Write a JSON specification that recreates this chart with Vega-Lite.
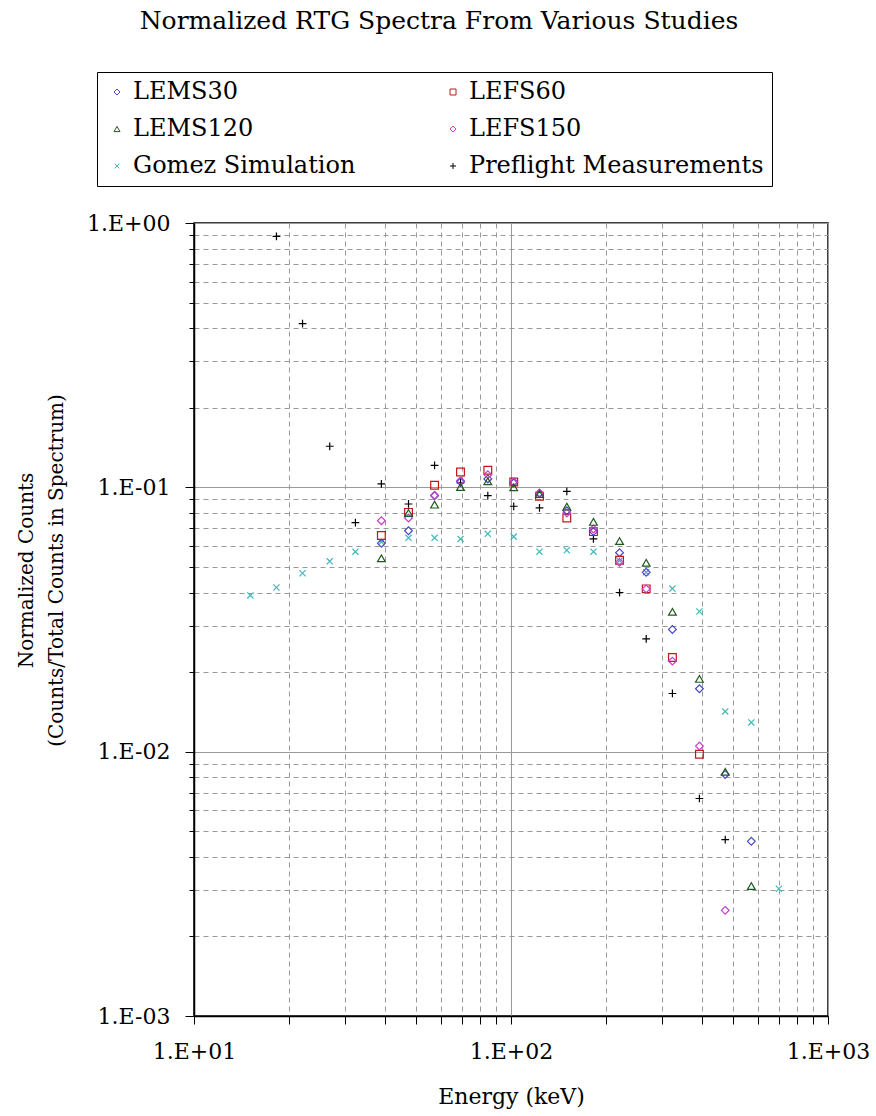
{
  "$schema": "https://vega.github.io/schema/vega-lite/v6.json",
  "width": 634,
  "height": 793,
  "autosize": "none",
  "padding": {"left": 194, "top": 223, "right": 48, "bottom": 100},
  "background": "white",
  "title": {
    "text": "Normalized RTG Spectra From Various Studies",
    "font": "DejaVu Serif",
    "fontSize": 25,
    "fontWeight": "normal",
    "color": "black",
    "anchor": "middle",
    "frame": "group",
    "dx": -72,
    "offset": 38
  },
  "config": {
    "view": {"stroke": "black", "strokeWidth": 1.5},
    "axis": {
      "labelFont": "DejaVu Serif",
      "labelFontSize": 22,
      "labelColor": "black",
      "titleFont": "DejaVu Serif",
      "titleFontSize": 22,
      "titleFontWeight": "normal",
      "titleColor": "black",
      "domainColor": "black",
      "domainWidth": 1.5,
      "tickColor": "black",
      "gridColor": "#999999",
      "gridWidth": 1
    }
  },
  "data": {
    "values": [
      {"series": "Preflight Measurements", "energy": 18.2, "counts": 0.89},
      {"series": "Preflight Measurements", "energy": 22.0, "counts": 0.416},
      {"series": "Preflight Measurements", "energy": 26.8, "counts": 0.143},
      {"series": "Preflight Measurements", "energy": 32.3, "counts": 0.0735},
      {"series": "Preflight Measurements", "energy": 39.0, "counts": 0.103},
      {"series": "Preflight Measurements", "energy": 47.5, "counts": 0.0865},
      {"series": "Preflight Measurements", "energy": 57.4, "counts": 0.121},
      {"series": "Preflight Measurements", "energy": 69.3, "counts": 0.104},
      {"series": "Preflight Measurements", "energy": 84.5, "counts": 0.093},
      {"series": "Preflight Measurements", "energy": 102, "counts": 0.0848},
      {"series": "Preflight Measurements", "energy": 123, "counts": 0.0836},
      {"series": "Preflight Measurements", "energy": 150, "counts": 0.0966},
      {"series": "Preflight Measurements", "energy": 182, "counts": 0.0638},
      {"series": "Preflight Measurements", "energy": 220, "counts": 0.040},
      {"series": "Preflight Measurements", "energy": 267, "counts": 0.0267},
      {"series": "Preflight Measurements", "energy": 323, "counts": 0.0166},
      {"series": "Preflight Measurements", "energy": 393, "counts": 0.00665},
      {"series": "Preflight Measurements", "energy": 474, "counts": 0.00465},

      {"series": "Gomez Simulation", "energy": 15.06, "counts": 0.039},
      {"series": "Gomez Simulation", "energy": 18.2, "counts": 0.0418},
      {"series": "Gomez Simulation", "energy": 22.0, "counts": 0.0473},
      {"series": "Gomez Simulation", "energy": 26.8, "counts": 0.0525},
      {"series": "Gomez Simulation", "energy": 32.3, "counts": 0.0571},
      {"series": "Gomez Simulation", "energy": 39.0, "counts": 0.0621},
      {"series": "Gomez Simulation", "energy": 47.5, "counts": 0.0644},
      {"series": "Gomez Simulation", "energy": 57.4, "counts": 0.0644},
      {"series": "Gomez Simulation", "energy": 69.3, "counts": 0.0638},
      {"series": "Gomez Simulation", "energy": 84.5, "counts": 0.0667},
      {"series": "Gomez Simulation", "energy": 102, "counts": 0.0651},
      {"series": "Gomez Simulation", "energy": 123, "counts": 0.0571},
      {"series": "Gomez Simulation", "energy": 150, "counts": 0.0578},
      {"series": "Gomez Simulation", "energy": 182, "counts": 0.0571},
      {"series": "Gomez Simulation", "energy": 220, "counts": 0.0528},
      {"series": "Gomez Simulation", "energy": 267, "counts": 0.0477},
      {"series": "Gomez Simulation", "energy": 323, "counts": 0.0414},
      {"series": "Gomez Simulation", "energy": 393, "counts": 0.0339},
      {"series": "Gomez Simulation", "energy": 474, "counts": 0.0142},
      {"series": "Gomez Simulation", "energy": 573, "counts": 0.0129},
      {"series": "Gomez Simulation", "energy": 700, "counts": 0.00303},

      {"series": "LEMS30", "energy": 39.0, "counts": 0.0614},
      {"series": "LEMS30", "energy": 47.5, "counts": 0.0685},
      {"series": "LEMS30", "energy": 57.4, "counts": 0.093},
      {"series": "LEMS30", "energy": 69.3, "counts": 0.105},
      {"series": "LEMS30", "energy": 84.5, "counts": 0.1076},
      {"series": "LEMS30", "energy": 102, "counts": 0.104},
      {"series": "LEMS30", "energy": 123, "counts": 0.0947},
      {"series": "LEMS30", "energy": 150, "counts": 0.0816},
      {"series": "LEMS30", "energy": 182, "counts": 0.068},
      {"series": "LEMS30", "energy": 220, "counts": 0.0566},
      {"series": "LEMS30", "energy": 267, "counts": 0.0477},
      {"series": "LEMS30", "energy": 323, "counts": 0.029},
      {"series": "LEMS30", "energy": 393, "counts": 0.0173},
      {"series": "LEMS30", "energy": 474, "counts": 0.0082},
      {"series": "LEMS30", "energy": 573, "counts": 0.00458},

      {"series": "LEFS60", "energy": 39.0, "counts": 0.0657},
      {"series": "LEFS60", "energy": 47.5, "counts": 0.0804},
      {"series": "LEFS60", "energy": 57.4, "counts": 0.1018},
      {"series": "LEFS60", "energy": 69.3, "counts": 0.1143},
      {"series": "LEFS60", "energy": 84.5, "counts": 0.116},
      {"series": "LEFS60", "energy": 102, "counts": 0.1048},
      {"series": "LEFS60", "energy": 123, "counts": 0.0925},
      {"series": "LEFS60", "energy": 150, "counts": 0.0765},
      {"series": "LEFS60", "energy": 182, "counts": 0.068},
      {"series": "LEFS60", "energy": 220, "counts": 0.053},
      {"series": "LEFS60", "energy": 267, "counts": 0.0413},
      {"series": "LEFS60", "energy": 323, "counts": 0.0227},
      {"series": "LEFS60", "energy": 393, "counts": 0.00978},

      {"series": "LEFS150", "energy": 39.0, "counts": 0.0748},
      {"series": "LEFS150", "energy": 47.5, "counts": 0.0766},
      {"series": "LEFS150", "energy": 57.4, "counts": 0.0933},
      {"series": "LEFS150", "energy": 69.3, "counts": 0.106},
      {"series": "LEFS150", "energy": 84.5, "counts": 0.1117},
      {"series": "LEFS150", "energy": 102, "counts": 0.105},
      {"series": "LEFS150", "energy": 123, "counts": 0.0953},
      {"series": "LEFS150", "energy": 150, "counts": 0.080},
      {"series": "LEFS150", "energy": 182, "counts": 0.0696},
      {"series": "LEFS150", "energy": 220, "counts": 0.052},
      {"series": "LEFS150", "energy": 267, "counts": 0.0413},
      {"series": "LEFS150", "energy": 323, "counts": 0.022},
      {"series": "LEFS150", "energy": 393, "counts": 0.0105},
      {"series": "LEFS150", "energy": 474, "counts": 0.00251},

      {"series": "LEMS120", "energy": 39.0, "counts": 0.0539},
      {"series": "LEMS120", "energy": 47.5, "counts": 0.080},
      {"series": "LEMS120", "energy": 57.4, "counts": 0.086},
      {"series": "LEMS120", "energy": 69.3, "counts": 0.1003},
      {"series": "LEMS120", "energy": 84.5, "counts": 0.1054},
      {"series": "LEMS120", "energy": 102, "counts": 0.100},
      {"series": "LEMS120", "energy": 123, "counts": 0.0944},
      {"series": "LEMS120", "energy": 150, "counts": 0.0845},
      {"series": "LEMS120", "energy": 182, "counts": 0.074},
      {"series": "LEMS120", "energy": 220, "counts": 0.0626},
      {"series": "LEMS120", "energy": 267, "counts": 0.0518},
      {"series": "LEMS120", "energy": 323, "counts": 0.0338},
      {"series": "LEMS120", "energy": 393, "counts": 0.01885},
      {"series": "LEMS120", "energy": 474, "counts": 0.00839},
      {"series": "LEMS120", "energy": 573, "counts": 0.0031}
    ]
  },
  "mark": {"type": "point", "filled": false, "strokeWidth": 1.2, "size": 60, "opacity": 1},
  "encoding": {
    "x": {
      "field": "energy",
      "type": "quantitative",
      "scale": {"type": "log", "domain": [10, 1000], "nice": false},
      "axis": {
        "title": "Energy (keV)",
        "values": [10, 20, 30, 40, 50, 60, 70, 80, 90, 100, 200, 300, 400, 500, 600, 700, 800, 900, 1000],
        "labelExpr": "datum.value == 10 ? '1.E+01' : datum.value == 100 ? '1.E+02' : datum.value == 1000 ? '1.E+03' : ''",
        "tickSize": 8,
        "labelPadding": 17,
        "labelFlush": false,
        "labelOverlap": false,
        "titleBaseline": "top",
        "titleY": 70,
        "grid": true,
        "gridDash": {"condition": {"test": "datum.value == 10 || datum.value == 100 || datum.value == 1000", "value": []}, "value": [5, 4]}
      }
    },
    "y": {
      "field": "counts",
      "type": "quantitative",
      "scale": {"type": "log", "domain": [0.001, 1], "nice": false},
      "axis": {
        "title": ["Normalized Counts", "(Counts/Total Counts in Spectrum)"],
        "values": [0.001, 0.002, 0.003, 0.004, 0.005, 0.006, 0.007, 0.008, 0.009, 0.01, 0.02, 0.03, 0.04, 0.05, 0.06, 0.07, 0.08, 0.09, 0.1, 0.2, 0.3, 0.4, 0.5, 0.6, 0.7, 0.8, 0.9, 1],
        "labelExpr": "datum.value == 1 ? '1.E+00' : datum.value == 0.1 ? '1.E-01' : datum.value == 0.01 ? '1.E-02' : datum.value == 0.001 ? '1.E-03' : ''",
        "tickSize": {"condition": {"test": "datum.value == 1 || datum.value == 0.1 || datum.value == 0.01 || datum.value == 0.001", "value": 9}, "value": 5},
        "labelPadding": 15,
        "labelOverlap": false,
        "labelFlush": false,
        "titleFontSize": 20,
        "titleAngle": -90,
        "titleBaseline": "top",
        "titleAlign": "center",
        "titleX": -178,
        "titleY": 347,
        "titleLineHeight": 30,
        "grid": true,
        "gridDash": {"condition": {"test": "datum.value == 1 || datum.value == 0.1 || datum.value == 0.01 || datum.value == 0.001", "value": []}, "value": [5, 4]}
      }
    },
    "color": {
      "field": "series",
      "type": "nominal",
      "scale": {
        "domain": ["LEMS30", "LEFS60", "LEMS120", "LEFS150", "Gomez Simulation", "Preflight Measurements"],
        "range": ["#4646c8", "#c01818", "#1e5a1e", "#c83cc8", "#40b8b8", "#000000"]
      },
      "legend": {
        "title": null,
        "orient": "none",
        "legendX": -97,
        "legendY": -151,
        "columns": 2,
        "direction": "horizontal",
        "strokeColor": "black",
        "fillColor": "white",
        "padding": 8,
        "labelFont": "DejaVu Serif",
        "labelFontSize": 24,
        "labelColor": "black",
        "labelLimit": 400,
        "labelOffset": 4,
        "symbolSize": 36,
        "symbolStrokeWidth": 1,
        "rowPadding": 13,
        "columnPadding": 85
      }
    },
    "shape": {
      "field": "series",
      "type": "nominal",
      "scale": {
        "domain": ["LEMS30", "LEFS60", "LEMS120", "LEFS150", "Gomez Simulation", "Preflight Measurements"],
        "range": ["diamond", "square", "triangle-up", "diamond", "M-0.8,-0.8L0.8,0.8M-0.8,0.8L0.8,-0.8", "M-1,0L1,0M0,-1L0,1"]
      }
    }
  }
}
